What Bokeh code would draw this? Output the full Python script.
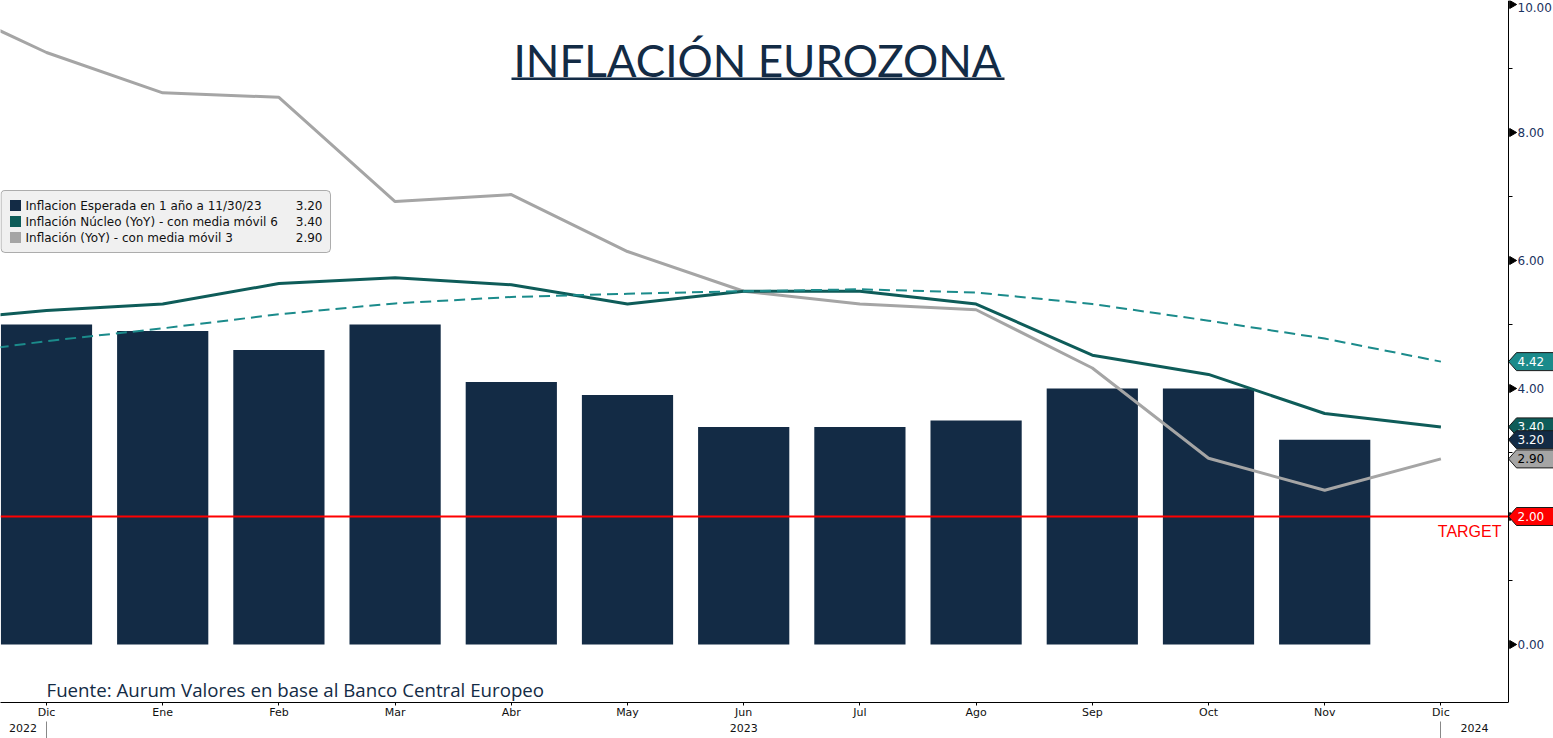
from math import pi

from bokeh.plotting import figure
from bokeh.models import (ColumnDataSource, FixedTicker, LinearAxis, Range1d, Span,
                          Label, BoxAnnotation)
from bokeh.core.properties import value
from bokeh.embed import file_html
from bokeh.resources import INLINE

# ---- data -------------------------------------------------------------
# month axis: position 0 = Dic 2022 ... 12 = Dic 2023 (position -1 = Nov 2022)
month_labels = ["Dic", "Ene", "Feb", "Mar", "Abr", "May", "Jun",
                "Jul", "Ago", "Sep", "Oct", "Nov", "Dic"]
year_labels = ["2022", "2023", "2024"]

# expected inflation in 1 year (bars), Dic 2022 .. Nov 2023
bar_pos = list(range(0, 12))
expected_1y = [5.0, 4.9, 4.6, 5.0, 4.1, 3.9, 3.4, 3.4, 3.5, 4.0, 4.0, 3.2]

# monthly lines, Nov 2022 .. Dic 2023
line_pos = list(range(-1, 13))
core_ma6 = [5.05, 5.22, 5.32, 5.64, 5.73, 5.62, 5.32, 5.52, 5.52, 5.32, 4.52, 4.22, 3.61, 3.40]
headline_ma3 = [10.1, 9.25, 8.62, 8.55, 6.92, 7.03, 6.14, 5.52, 5.32, 5.23, 4.32, 2.91, 2.41, 2.90]
core_trend = [4.50, 4.74, 4.94, 5.16, 5.33, 5.43, 5.48, 5.52, 5.55, 5.50, 5.32, 5.06, 4.78, 4.42]

target = 2.0
y_ticks = [0, 2, 4, 6, 8, 10]
y_minor = [1, 3, 5, 7, 9]

# ---- colours ----------------------------------------------------------
NAVY = "#132b45"
TEAL = "#0e5c59"
TEAL_LIGHT = "#1b8b8b"
GREY = "#a5a5a5"
RED = "#ff0000"
AXIS_TXT = "#1a3260"

W, H = 1553, 738
FRAME_H = 702            # plot area height; the date axes sit below it
MONTH_PX = 116.2         # width of one month slot
ORIGIN_PX = 46           # pixel column of position 0
Y_PX = 64.0              # pixels per percentage point


def dx(px):
    """pixel column -> x data position"""
    return (px - ORIGIN_PX) / MONTH_PX


def sy(y_px):
    """canvas pixel row -> screen units measured from the frame bottom"""
    return FRAME_H - y_px


axis_x = dx(1508)        # the value scale runs along this vertical line

p = figure(width=W, height=H, output_backend="svg", toolbar_location=None,
           x_range=Range1d(dx(0), dx(W)), y_range=Range1d(-58 / Y_PX, 10 + 4 / Y_PX),
           y_axis_location=None, min_border_left=0, min_border_top=0,
           min_border_right=0, min_border_bottom=H - FRAME_H)
p.outline_line_color = None
p.grid.visible = False
p.background_fill_color = "white"
p.border_fill_color = "white"

# ---- date axes ----------------------------------------------------------
xa = p.xaxis[0]
xa.ticker = FixedTicker(ticks=list(range(len(month_labels))))
xa.major_label_overrides = {i: m for i, m in enumerate(month_labels)}
xa.bounds = (dx(0), axis_x)
xa.axis_line_color = "black"
xa.major_tick_out = 3
xa.major_tick_in = 0
xa.minor_tick_line_color = None
xa.major_label_standoff = 0
xa.major_label_text_font = "DejaVu Sans"
xa.major_label_text_font_size = "11px"
xa.major_label_text_color = "#111111"

year_pos = [dx(22.5), 6, dx(1474)]
year_axis = LinearAxis(ticker=FixedTicker(ticks=year_pos, minor_ticks=[0, 12]))
year_axis.major_label_overrides = dict(zip(year_pos, year_labels))
year_axis.axis_line_color = None
year_axis.major_tick_line_color = None
year_axis.major_tick_out = 0
year_axis.major_tick_in = 0
year_axis.minor_tick_out = 18
year_axis.minor_tick_in = 0
year_axis.minor_tick_line_color = "#888888"
year_axis.major_label_standoff = -16
year_axis.major_label_text_font = "DejaVu Sans"
year_axis.major_label_text_font_size = "11px"
year_axis.major_label_text_color = "#111111"
p.add_layout(year_axis, "below")

# ---- bars and lines -----------------------------------------------------
bars = ColumnDataSource(dict(x=bar_pos, top=expected_1y))
p.vbar(x="x", top="top", bottom=0, width=0.785, source=bars,
       fill_color=NAVY, line_color=None)

# inflation target, up to the value scale
p.segment(x0=[dx(0)], x1=[axis_x], y0=[target], y1=[target], line_color=RED, line_width=2)

lines = ColumnDataSource(dict(x=line_pos, core=core_ma6, head=headline_ma3, trend=core_trend))
p.line("x", "head", source=lines, line_color=GREY, line_width=3)
p.line("x", "core", source=lines, line_color=TEAL, line_width=3)
p.line("x", "trend", source=lines, line_color=TEAL_LIGHT, line_width=2, line_dash="11 6")

p.add_layout(Label(x=1501, x_units="screen", y=target, text="TARGET", text_align="right",
                   text_baseline="middle", y_offset=-15, text_color=RED,
                   text_font="Liberation Sans", text_font_size="16px"))

# ---- value scale on the right -------------------------------------------
p.add_layout(Span(location=axis_x, dimension="height", line_color="black", line_width=1))
p.scatter(x=[dx(1511.5)] * len(y_ticks), y=y_ticks, marker="triangle", angle=-pi / 2,
          size=8, fill_color="black", line_color="black")
p.segment(x0=[axis_x] * len(y_minor), x1=[dx(1512)] * len(y_minor),
          y0=y_minor, y1=y_minor, line_color="black", line_width=1)
scale_src = ColumnDataSource(dict(
    x=[dx(1517)] * len(y_ticks), y=y_ticks, text=[f"{t:.2f}" for t in y_ticks],
    # keep the topmost label inside the plot edge
    dy=[3 if t == max(y_ticks) else 0 for t in y_ticks]))
p.text(x="x", y="y", text="text", y_offset="dy", source=scale_src,
       text_baseline="middle", text_align="left", text_color=AXIS_TXT,
       text_font=value("DejaVu Sans"), text_font_size="12px")

# last-value tags
tag_h = 9 / Y_PX
tags = [
    (core_trend[-1], TEAL_LIGHT, "white"),
    (core_ma6[-1], TEAL, "white"),
    (expected_1y[-1], NAVY, "white"),
    (headline_ma3[-1], GREY, "black"),
    (target, RED, "white"),
]
for v, fill, txt in tags:
    xs = [axis_x, dx(1516), dx(W + 5), dx(W + 5), dx(1516)]
    ys = [v, v + tag_h, v + tag_h, v - tag_h, v - tag_h]
    p.patch(x=xs, y=ys, fill_color=fill, line_color="#1a1a1a", line_width=1)
    p.text(x=[dx(1517)], y=[v], text=[f"{v:.2f}"], text_baseline="middle",
           text_color=txt, text_font=value("DejaVu Sans"), text_font_size="12px")

# ---- title and source ---------------------------------------------------
p.add_layout(Label(x=757, x_units="screen", y=sy(59), y_units="screen",
                   text="INFLACIÓN EUROZONA", text_align="center", text_baseline="middle",
                   text_color=NAVY, text_font="Lato", text_font_size="44px"))
p.add_layout(BoxAnnotation(left=511, right=1004, top=sy(77), bottom=sy(79.5),
                           left_units="screen", right_units="screen",
                           top_units="screen", bottom_units="screen",
                           fill_color=NAVY, fill_alpha=1.0, line_color=None))
p.add_layout(Label(x=46, x_units="screen", y=sy(689), y_units="screen",
                   text="Fuente: Aurum Valores en base al Banco Central Europeo",
                   text_baseline="middle", text_color=NAVY,
                   text_font="Open Sans", text_font_size="18.7px"))

# ---- legend -----------------------------------------------------------------
p.add_layout(BoxAnnotation(left=0.5, right=330, top=sy(190), bottom=sy(252),
                           left_units="screen", right_units="screen",
                           top_units="screen", bottom_units="screen",
                           fill_color="#f0f0f0", fill_alpha=1.0,
                           line_color="black", line_width=1, border_radius=4))
legend_rows = [
    ("Inflacion Esperada en 1 año a 11/30/23", expected_1y[-1], NAVY),
    ("Inflación Núcleo (YoY) - con media móvil 6", core_ma6[-1], TEAL),
    ("Inflación (YoY) - con media móvil 3", headline_ma3[-1], GREY),
]
for i, (name, val, col) in enumerate(legend_rows):
    cy = 205 + 16 * i
    p.add_layout(BoxAnnotation(left=9.5, right=20.5, top=sy(cy - 5.5), bottom=sy(cy + 5.5),
                               left_units="screen", right_units="screen",
                               top_units="screen", bottom_units="screen",
                               fill_color=col, fill_alpha=1.0, line_color=None))
    p.add_layout(Label(x=25, x_units="screen", y=sy(cy), y_units="screen", text=name,
                       text_baseline="middle", text_color="#111111",
                       text_font="DejaVu Sans", text_font_size="12px"))
    p.add_layout(Label(x=322, x_units="screen", y=sy(cy), y_units="screen", text=f"{val:.2f}",
                       text_align="right", text_baseline="middle", text_color="#111111",
                       text_font="DejaVu Sans", text_font_size="12px"))

open("out.html", "w").write(file_html(p, INLINE))
